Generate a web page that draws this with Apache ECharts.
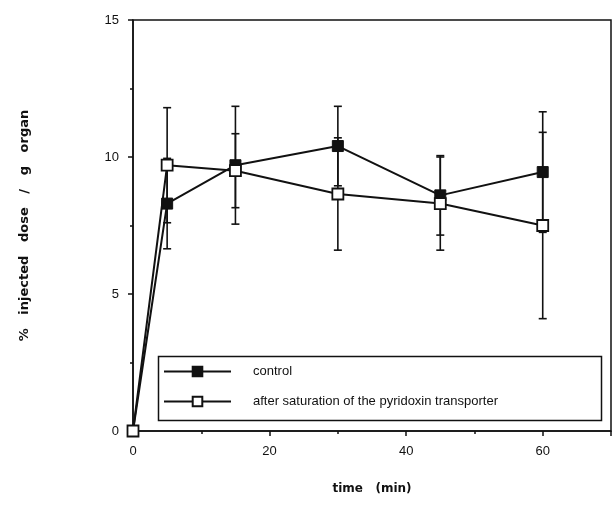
<!DOCTYPE html>
<html>
<head>
<meta charset="utf-8">
<script src="https://cdn.jsdelivr.net/npm/echarts@6/dist/echarts.min.js"></script>
<style>
  html, body { margin: 0; padding: 0; background: #fff; }
  #chart { width: 612px; height: 512px; }
</style>
</head>
<body>
<div id="chart"></div>
<script>
// time points (min)
const timePoints = [0, 5, 15, 30, 45, 60]
// % injected dose / g organ, mean and SD
const controlMean = [0, 8.3, 9.7, 10.4, 8.6, 9.45]
const controlErr = [0, 1.65, 2.15, 1.45, 1.45, 2.2]
const saturatedMean = [0, 9.7, 9.5, 8.65, 8.3, 7.5]
const saturatedErr = [0, 2.1, 1.35, 2.05, 1.7, 3.4]
const seriesNames = ['control', 'after saturation of the pyridoxin transporter']

const ink = '#111'

function pairs(means) {
  return timePoints.map((t, i) => [t, means[i]])
}
function triples(means, errs) {
  return timePoints.map((t, i) => [t, means[i], errs[i]])
}

// vertical error bar with small caps
function renderErrorBar(params, api) {
  const err = api.value(2)
  if (!err) return null
  const x = api.value(0)
  const m = api.value(1)
  const hi = api.coord([x, m + err])
  const lo = api.coord([x, m - err])
  const w = 4
  const style = { stroke: ink, lineWidth: 1.6 }
  return {
    type: 'group',
    children: [
      { type: 'line', shape: { x1: hi[0], y1: hi[1], x2: lo[0], y2: lo[1] }, style },
      { type: 'line', shape: { x1: hi[0] - w, y1: hi[1], x2: hi[0] + w, y2: hi[1] }, style },
      { type: 'line', shape: { x1: lo[0] - w, y1: lo[1], x2: lo[0] + w, y2: lo[1] }, style }
    ]
  }
}

const chart = echarts.init(document.getElementById('chart'))

chart.setOption({
  animation: false,
  backgroundColor: '#fff',
  textStyle: { fontFamily: 'Liberation Sans', color: ink },
  grid: {
    left: 133,
    right: 1,
    top: 20,
    bottom: 81,
    outerBoundsMode: 'none',
    containLabel: false,
    show: true,
    borderColor: ink,
    borderWidth: 1.5
  },
  graphic: [{
    type: 'rect',
    left: 156,
    top: 354,
    shape: { width: 443, height: 64 },
    style: { fill: 'none', stroke: ink, lineWidth: 1.5 },
    z: 10
  }],
  legend: {
    data: seriesNames,
    orient: 'vertical',
    left: 163,
    top: 365,
    padding: 0,
    itemWidth: 67,
    itemHeight: 12,
    itemGap: 17,
    textStyle: { fontSize: 13, color: ink, padding: [0, 0, 0, 17] },
    z: 11
  },
  xAxis: {
    type: 'value',
    min: 0,
    max: 70,
    interval: 20,
    name: 'time   (min)',
    nameLocation: 'middle',
    nameGap: 52,
    nameTextStyle: { fontSize: 12, fontWeight: 'bold', fontFamily: 'DejaVu Sans', color: ink },
    axisLine: { show: true, lineStyle: { color: ink, width: 1.5 } },
    axisTick: { show: true, length: 5, lineStyle: { color: ink, width: 1.5 } },
    minorTick: { show: true, splitNumber: 2, length: 3, lineStyle: { color: ink, width: 1.5 } },
    axisLabel: { fontSize: 13, color: ink, margin: 14, showMaxLabel: false },
    splitLine: { show: false }
  },
  yAxis: {
    type: 'value',
    min: 0,
    max: 15,
    interval: 5,
    name: '%   injected   dose   /   g   organ',
    nameLocation: 'middle',
    nameGap: 102,
    nameTextStyle: { fontSize: 13, fontWeight: 'bold', fontFamily: 'DejaVu Sans', color: ink },
    axisLine: { show: true, lineStyle: { color: ink, width: 1.5 } },
    axisTick: { show: true, length: 5, lineStyle: { color: ink, width: 1.5 } },
    minorTick: { show: true, splitNumber: 2, length: 3, lineStyle: { color: ink, width: 1.5 } },
    axisLabel: { fontSize: 13, color: ink, margin: 14 },
    splitLine: { show: false }
  },
  series: [
    {
      type: 'custom',
      renderItem: renderErrorBar,
      data: triples(controlMean, controlErr),
      z: 1,
      silent: true
    },
    {
      type: 'custom',
      renderItem: renderErrorBar,
      data: triples(saturatedMean, saturatedErr),
      z: 1,
      silent: true
    },
    {
      name: seriesNames[0],
      type: 'line',
      data: pairs(controlMean),
      symbol: 'rect',
      symbolSize: 11,
      showAllSymbol: true,
      lineStyle: { color: ink, width: 2 },
      itemStyle: { color: ink, borderColor: ink, borderWidth: 1 },
      z: 3
    },
    {
      name: seriesNames[1],
      type: 'line',
      data: pairs(saturatedMean),
      symbol: 'rect',
      symbolSize: 11,
      showAllSymbol: true,
      lineStyle: { color: ink, width: 2 },
      itemStyle: { color: '#fff', borderColor: ink, borderWidth: 1.8 },
      z: 4
    }
  ]
})
</script>
</body>
</html>
